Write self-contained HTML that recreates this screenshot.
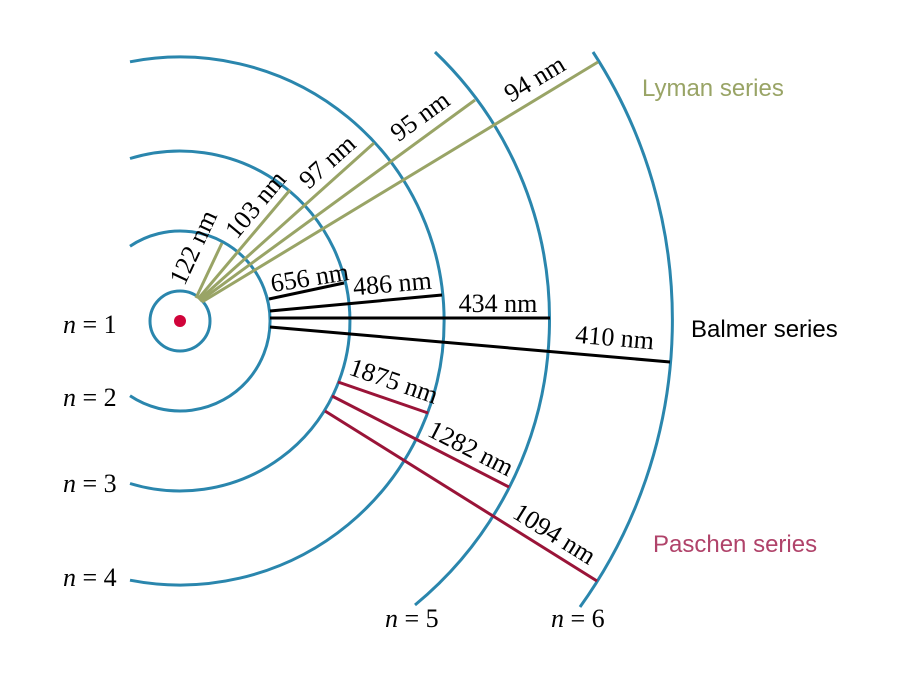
<!DOCTYPE html>
<html><head><meta charset="utf-8"><style>html,body{margin:0;padding:0;background:#fff}</style></head>
<body>
<svg width="900" height="675" viewBox="0 0 900 675" xmlns="http://www.w3.org/2000/svg">
<g fill="none" stroke="#2a86ad" stroke-width="3">
<circle cx="180" cy="321" r="30"/>
<path d="M130,246.2 A90,90 0 1 1 130,395.8"/>
<path d="M130,158.5 A170,170 0 1 1 130,483.5"/>
<path d="M130,61.8 A264,264 0 1 1 130,580.2"/>
<path d="M435,52 A370,370 0 0 1 415,605"/>
<path d="M593,52 A492,492 0 0 1 580,607"/>
</g>
<circle cx="180" cy="321" r="6" fill="#d0033a"/>
<g stroke="#99a466" stroke-width="3">
<line x1="196" y1="298" x2="222" y2="243"/>
<line x1="198" y1="299" x2="290" y2="190"/>
<line x1="199" y1="300" x2="374" y2="143"/>
<line x1="200" y1="301" x2="475" y2="100"/>
<line x1="202" y1="302" x2="598" y2="62"/>
</g>
<g stroke="#000" stroke-width="3">
<line x1="269" y1="299" x2="344" y2="283"/>
<line x1="270" y1="311" x2="442" y2="295"/>
<line x1="270" y1="318" x2="550" y2="318"/>
<line x1="270" y1="327" x2="670" y2="362"/>
</g>
<g stroke="#9a1438" stroke-width="3">
<line x1="338" y1="382" x2="428" y2="413"/>
<line x1="332" y1="396" x2="509" y2="487"/>
<line x1="325" y1="411" x2="597" y2="581"/>
</g>
<g font-family="Liberation Serif, serif" font-size="26" fill="#000" text-anchor="middle">
<text transform="translate(201,251) rotate(-65)">122 nm</text>
<text transform="translate(262,210) rotate(-50)">103 nm</text>
<text transform="translate(333,168) rotate(-42)">97 nm</text>
<text transform="translate(425,123) rotate(-36)">95 nm</text>
<text transform="translate(539,86) rotate(-31)">94 nm</text>
<text transform="translate(311,286) rotate(-9)">656 nm</text>
<text transform="translate(393,292) rotate(-5)">486 nm</text>
<text transform="translate(498,312)">434 nm</text>
<text transform="translate(614,346) rotate(5)">410 nm</text>
<text transform="translate(391,389) rotate(19)">1875 nm</text>
<text transform="translate(467,456) rotate(27)">1282 nm</text>
<text transform="translate(550,541) rotate(32)">1094 nm</text>
<g text-anchor="start">
<text x="63" y="333"><tspan font-style="italic">n</tspan> = 1</text>
<text x="63" y="406"><tspan font-style="italic">n</tspan> = 2</text>
<text x="63" y="492"><tspan font-style="italic">n</tspan> = 3</text>
<text x="63" y="586"><tspan font-style="italic">n</tspan> = 4</text>
<text x="385" y="627"><tspan font-style="italic">n</tspan> = 5</text>
<text x="551" y="627"><tspan font-style="italic">n</tspan> = 6</text>
</g>
</g>
<g font-family="Liberation Sans, sans-serif" font-size="24">
<text x="642" y="96" fill="#99a466">Lyman series</text>
<text x="691" y="337" fill="#000">Balmer series</text>
<text x="653" y="552" fill="#b0436a">Paschen series</text>
</g>
</svg>
</body></html>
